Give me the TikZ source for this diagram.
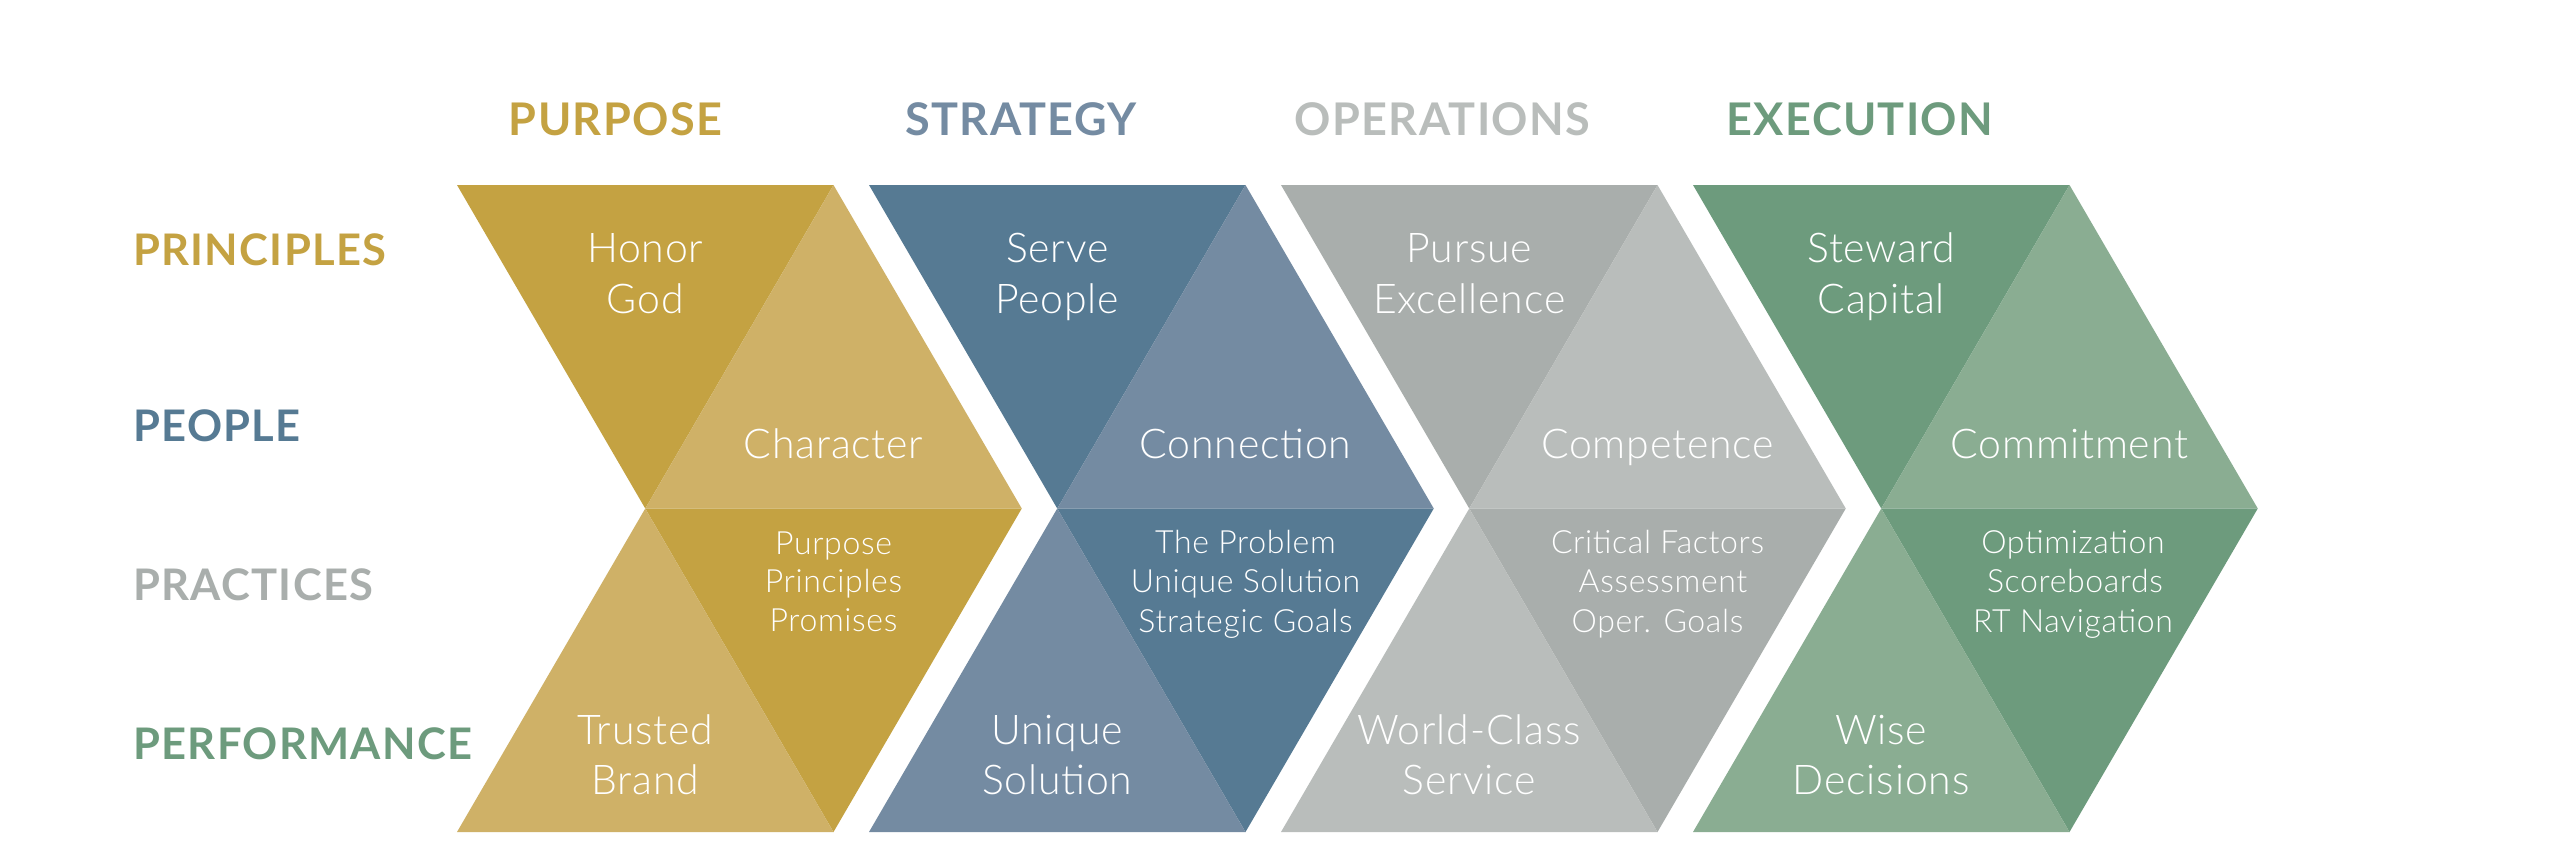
\documentclass[tikz,border=0pt]{standalone}
\usepackage{fontspec}
\setmainfont{Lato}
\newfontfamily\lightfont{Lato Light}[LetterSpace=2]
\newfontfamily\boldfont{Lato}[LetterSpace=3,UprightFont=* Bold]
\definecolor{golddk}{HTML}{C4A242}
\definecolor{goldlt}{HTML}{CFB167}
\definecolor{bluedk}{HTML}{567A93}
\definecolor{bluelt}{HTML}{748BA2}
\definecolor{graydk}{HTML}{A9AEAC}
\definecolor{graylt}{HTML}{B9BDBB}
\definecolor{greendk}{HTML}{6D9B7D}
\definecolor{greenlt}{HTML}{8AAD92}
\newcommand\chevronshape[3]{%
  \fill[#2] (#1,185) -- (#1+376.5,185) -- (#1+188.25,508.5) -- cycle;
  \fill[#3] (#1+376.5,185) -- (#1+188.25,508.5) -- (#1+564.75,508.5) -- cycle;
  \fill[#2] (#1+188.25,508.5) -- (#1+564.75,508.5) -- (#1+376.5,832) -- cycle;
  \fill[#3] (#1+188.25,508.5) -- (#1,832) -- (#1+376.5,832) -- cycle;
}
\begin{document}
\begin{tikzpicture}[x=1pt,y=-1pt,
  body/.style={text=white,inner sep=0pt,anchor=base,font=\lightfont\fontsize{41}{48}\selectfont},
  small/.style={text=white,inner sep=0pt,anchor=base,font=\lightfont\fontsize{32}{38}\selectfont},
  rowlbl/.style={inner sep=0pt,anchor=base west,font=\boldfont\fontsize{43.5}{50}\selectfont},
  collbl/.style={inner sep=0pt,anchor=base,font=\boldfont\fontsize{45}{52}\selectfont}]
\useasboundingbox (0,0) rectangle (2560,864);
\fill[white] (0,0) rectangle (2560,864);

% column headers
\node[collbl,text=golddk] (hpurpose) at (615.5,136) {PURPOSE};
\node[collbl,text=bluelt] (hstrategy) at (1021,136) {STRATEGY};
\node[collbl,text=graylt] (hoperations) at (1442.5,136) {OPERATIONS};
\node[collbl,text=greendk] (hexecution) at (1860,136) {EXECUTION};

% row labels
\node[rowlbl,text=golddk] (rprinciples) at (133,265) {PRINCIPLES};
\node[rowlbl,text=bluedk] (rpeople) at (133,441) {PEOPLE};
\node[rowlbl,text=graydk] (rpractices) at (133,600) {PRACTICES};
\node[rowlbl,text=greendk] (rperformance) at (133,759) {PERFORMANCE};

% chevrons
\chevronshape{457}{golddk}{goldlt}
\chevronshape{869}{bluedk}{bluelt}
\chevronshape{1281}{graydk}{graylt}
\chevronshape{1693}{greendk}{greenlt}

% purpose
\node[body] (a1a) at (645.25,262) {Honor};
\node[body] (a1b) at (645.25,313) {God};
\node[body] (a2) at (833.5,458) {Character};
\node[small] (a3a) at (833.5,554) {Purpose};
\node[small] (a3b) at (833.5,592.5) {Principles};
\node[small] (a3c) at (833.5,631) {Promises};
\node[body] (a4a) at (645.25,744) {Trusted};
\node[body] (a4b) at (645.25,794) {Brand};

% strategy
\node[body] (b1a) at (1057.25,262) {Serve};
\node[body] (b1b) at (1057.25,313) {People};
\node[body] (b2) at (1245.5,458) {Connection};
\node[small] (b3a) at (1245.5,553) {The Problem};
\node[small] (b3b) at (1245.5,592.5) {Unique Solution};
\node[small] (b3c) at (1245.5,632) {Strategic Goals};
\node[body] (b4a) at (1057.25,744) {Unique};
\node[body] (b4b) at (1057.25,794) {Solution};

% operations
\node[body] (c1a) at (1469.25,262) {Pursue};
\node[body] (c1b) at (1469.25,313) {Excellence};
\node[body] (c2) at (1657.5,458) {Competence};
\node[small] (c3a) at (1657.5,553) {Critical Factors};
\node[small] (c3b) at (1663,592.5) {Assessment};
\node[small] (c3c) at (1657.5,632) {Oper. Goals};
\node[body] (c4a) at (1469.25,744) {World-Class};
\node[body] (c4b) at (1469.25,794) {Service};

% execution
\node[body] (d1a) at (1881.25,262) {Steward};
\node[body] (d1b) at (1881.25,313) {Capital};
\node[body] (d2) at (2069.5,458) {Commitment};
\node[small] (d3a) at (2073,553) {Optimization};
\node[small] (d3b) at (2075,592.5) {Scoreboards};
\node[small] (d3c) at (2073,632) {RT Navigation};
\node[body] (d4a) at (1881.25,744) {Wise};
\node[body] (d4b) at (1881.25,794) {Decisions};
\end{tikzpicture}
\end{document}
